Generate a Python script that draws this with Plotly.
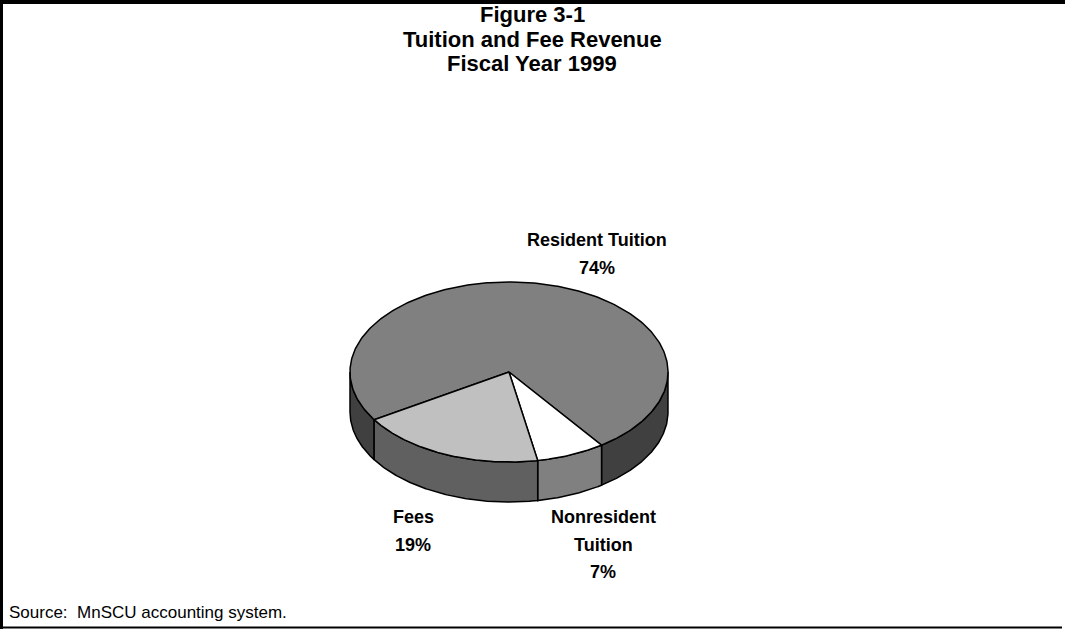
import numpy as np
import plotly.graph_objects as go

# ---- data ----
labels = ["Resident Tuition", "Nonresident Tuition", "Fees"]
label_lines = [["Resident Tuition"], ["Nonresident", "Tuition"], ["Fees"]]
values = [74, 7, 19]
title_lines = ["Figure 3-1", "Tuition and Fee Revenue", "Fiscal Year 1999"]
source_text = "Source:  MnSCU accounting system."

# ---- styling / layout ----
W, H = 1065, 629
top_colors = ["#808080", "#ffffff", "#c0c0c0"]
side_colors = ["#404040", "#808080", "#606060"]
CX, CY, RX, RY, DEPTH = 509, 372, 159, 90, 40
START = 148.0  # parametric angle (deg) where first slice starts, clockwise on screen
FONT = "Liberation Sans, Arial, sans-serif"

total = sum(values)
bounds = [START]
for v in values:
    bounds.append(bounds[-1] + 360.0 * v / total)


def ell(t_deg, dy=0.0):
    t = np.radians(t_deg)
    return CX + RX * np.cos(t), CY + RY * np.sin(t) + dy


fig = go.Figure()

# side walls (front half only: parametric 0..180 deg, shifted by k*360)
for i in range(len(values)):
    a, b = bounds[i], bounds[i + 1]
    for k in range(-1, 3):
        lo, hi = max(a, 360 * k), min(b, 360 * k + 180)
        if hi - lo <= 0.01:
            continue
        ts = np.linspace(lo, hi, 120)
        xt, yt = ell(ts)
        xb, yb = ell(ts[::-1], DEPTH)
        xs = np.concatenate([xt, xb, xt[:1]])
        ys = np.concatenate([yt, yb, yt[:1]])
        fig.add_trace(go.Scatter(x=xs, y=ys, mode="lines", fill="toself",
                                 fillcolor=side_colors[i],
                                 line=dict(color="black", width=1.5),
                                 hoverinfo="skip", showlegend=False))

# top faces
for i in range(len(values)):
    a, b = bounds[i], bounds[i + 1]
    ts = np.linspace(a, b, 300)
    xa, ya = ell(ts)
    xs = np.concatenate([[CX], xa, [CX]])
    ys = np.concatenate([[CY], ya, [CY]])
    fig.add_trace(go.Scatter(x=xs, y=ys, mode="lines", fill="toself",
                             fillcolor=top_colors[i],
                             line=dict(color="black", width=1.5),
                             name=labels[i], hoverinfo="name", showlegend=False))

annotations = []
# title
for j, (txt, y) in enumerate(zip(title_lines, [14, 39, 63])):
    annotations.append(dict(x=532, y=y, xref="x", yref="y", text=txt, showarrow=False,
                            xanchor="center", yanchor="middle",
                            font=dict(family=FONT, size=22, color="black", weight="bold")))

# data labels
label_pos = [(597, 240), (603, 517), (413, 517)]
line_gap = 27.5
for i in range(len(values)):
    lines = label_lines[i] + [f"{values[i]}%"]
    x0, y0 = label_pos[i]
    for j, txt in enumerate(lines):
        annotations.append(dict(x=x0, y=y0 + j * line_gap, xref="x", yref="y", text=txt,
                                showarrow=False, xanchor="center", yanchor="middle",
                                font=dict(family=FONT, size=18, color="black", weight="bold")))

# source
annotations.append(dict(x=7, y=612, xref="x", yref="y", text=source_text, showarrow=False,
                        xanchor="left", yanchor="middle",
                        font=dict(family=FONT, size=17, color="black")))

shapes = [
    dict(type="line", xref="x", yref="y", x0=1.5, x1=1.5, y0=0, y1=H, line=dict(color="black", width=3)),
    dict(type="line", xref="x", yref="y", x0=0, x1=W, y0=2, y1=2, line=dict(color="black", width=4)),
    dict(type="line", xref="x", yref="y", x0=0, x1=1062, y0=627.5, y1=627.5, line=dict(color="black", width=2)),
]

fig.update_layout(
    width=W, height=H, autosize=False,
    margin=dict(l=0, r=0, t=0, b=0, pad=0),
    paper_bgcolor="white", plot_bgcolor="white",
    xaxis=dict(range=[0, W], visible=False, fixedrange=True),
    yaxis=dict(range=[H, 0], visible=False, fixedrange=True),
    annotations=annotations, shapes=shapes, showlegend=False,
)

fig.write_html("out.html", include_plotlyjs=True, config={"displayModeBar": False})
